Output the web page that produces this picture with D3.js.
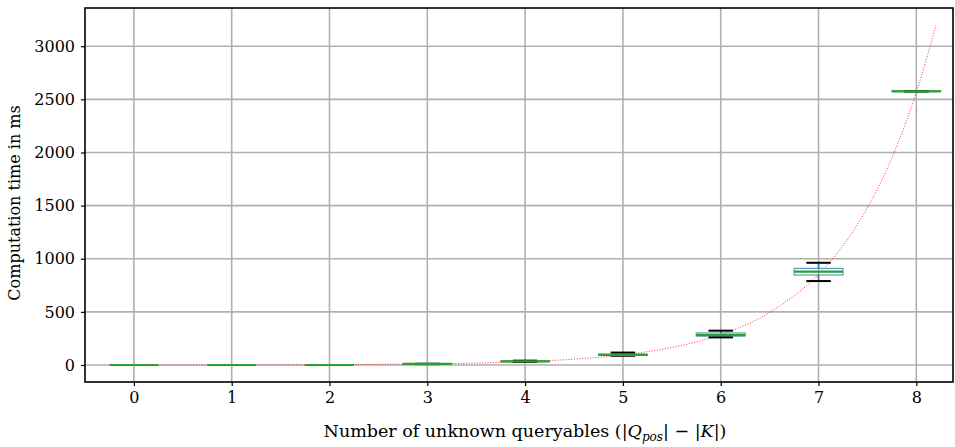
<!DOCTYPE html>
<html><head><meta charset="utf-8">
<script src="https://cdn.jsdelivr.net/npm/d3@7"></script>
<style>body{margin:0;background:#fff}svg{display:block}text{font-family:"DejaVu Serif",serif;fill:#000}</style>
</head><body>
<svg id="c" width="955" height="447"></svg>
<script>
const categories = [0,1,2,3,4,5,6,7,8];
const whiskerLow  = [0,0,0,8,29,87,260,790,2575];
const q1          = [0,0,0,9,33,92,273,847,2575];
const median      = [0,0,0,10,35,96,282,878,2575];
const q3          = [0,0,0,11,38,102,301,909,2580];
const whiskerHigh = [0,0,0,12,41,117,323,962,2576];
const fitX = [0,1,2,3,3.5,4,4.5,5,5.5,6,6.5,7,7.25,7.5,7.75,8,8.2];
const fitY = [0.4,1.2,3.5,10.6,18,32,55,95,165,285,495,855,1125,1480,1950,2565,3195];
const yTicks = [0,500,1000,1500,2000,2500,3000];

const svg = d3.select("#c");
const L=85, R=953, T=8, B=382;
const x = d3.scaleLinear().domain([-0.5,8.375]).range([L,R]);
const y = d3.scaleLinear().domain([-160,3360]).range([B,T]);

// grid
const g = svg.append("g");
g.selectAll(".gx").data(categories).join("line")
  .attr("x1",d=>x(d)).attr("x2",d=>x(d)).attr("y1",T).attr("y2",B)
  .attr("stroke","#b0b0b0").attr("stroke-width",1.6);
g.selectAll(".gy").data(yTicks).join("line")
  .attr("x1",L).attr("x2",R).attr("y1",d=>y(d)).attr("y2",d=>y(d))
  .attr("stroke","#b0b0b0").attr("stroke-width",1.6);

// fit curve
const line = d3.line().x((d,i)=>x(fitX[i])).y(d=>y(d)).curve(d3.curveMonotoneX);
svg.append("path").datum(fitY).attr("d",line).attr("fill","none")
  .attr("stroke","#ff0000").attr("stroke-width",1).attr("stroke-dasharray","1 1.7").attr("opacity",0.8);

// boxes
const bw = 0.25, cw = 0.125;
const bx = svg.append("g");
categories.forEach((c,i)=>{
  bx.append("line").attr("x1",x(c)).attr("x2",x(c)).attr("y1",y(q1[i])).attr("y2",y(whiskerLow[i]))
    .attr("stroke","#1f77b4").attr("stroke-width",1.5);
  bx.append("line").attr("x1",x(c)).attr("x2",x(c)).attr("y1",y(q3[i])).attr("y2",y(whiskerHigh[i]))
    .attr("stroke","#1f77b4").attr("stroke-width",1.5);
  bx.append("rect").attr("x",x(c-bw)).attr("width",x(c+bw)-x(c-bw))
    .attr("y",y(q3[i])).attr("height",Math.max(0,y(q1[i])-y(q3[i])))
    .attr("fill","none").attr("stroke","#1f77b4").attr("stroke-width",1.2).attr("opacity",0.75);
  [whiskerLow[i],whiskerHigh[i]].forEach(v=>{
    bx.append("line").attr("x1",x(c-cw)).attr("x2",x(c+cw)).attr("y1",y(v)).attr("y2",y(v))
      .attr("stroke","#000").attr("stroke-width",2);
  });
  bx.append("line").attr("x1",x(c-bw)).attr("x2",x(c+bw)).attr("y1",y(median[i])).attr("y2",y(median[i]))
    .attr("stroke","#2ca02c").attr("stroke-width",2.2);
});

// axes
const xa = svg.append("g").attr("transform",`translate(0,${B})`)
  .call(d3.axisBottom(x).tickValues(categories).tickFormat(d3.format("d")).tickSize(4).tickPadding(6));
const ya = svg.append("g").attr("transform",`translate(${L},0)`)
  .call(d3.axisLeft(y).tickValues(yTicks).tickFormat(d3.format("d")).tickSize(4).tickPadding(6));
[xa,ya].forEach(a=>{
  a.select(".domain").remove();
  a.selectAll(".tick line").attr("stroke","#000").attr("stroke-width",1.2);
  a.selectAll(".tick text").style("font-size","16px").style("font-family","'DejaVu Serif',serif").attr("fill","#000");
});
svg.append("rect").attr("x",L).attr("y",T).attr("width",R-L).attr("height",B-T)
  .attr("fill","none").attr("stroke","#000").attr("stroke-width",1.6);

// labels
const xl = svg.append("text").attr("x",525).attr("y",437).attr("text-anchor","middle")
  .style("font-size","17.5px");
xl.append("tspan").text("Number of unknown queryables (|");
xl.append("tspan").style("font-style","italic").text("Q");
xl.append("tspan").style("font-style","italic").style("font-size","12px").attr("dy",4).text("pos");
xl.append("tspan").attr("dy",-4).text("| − |");
xl.append("tspan").style("font-style","italic").text("K");
xl.append("tspan").text("|)");

svg.append("text").attr("transform","translate(20,203) rotate(-90)").attr("text-anchor","middle")
  .style("font-size","16px").text("Computation time in ms");
</script>
</body></html>
